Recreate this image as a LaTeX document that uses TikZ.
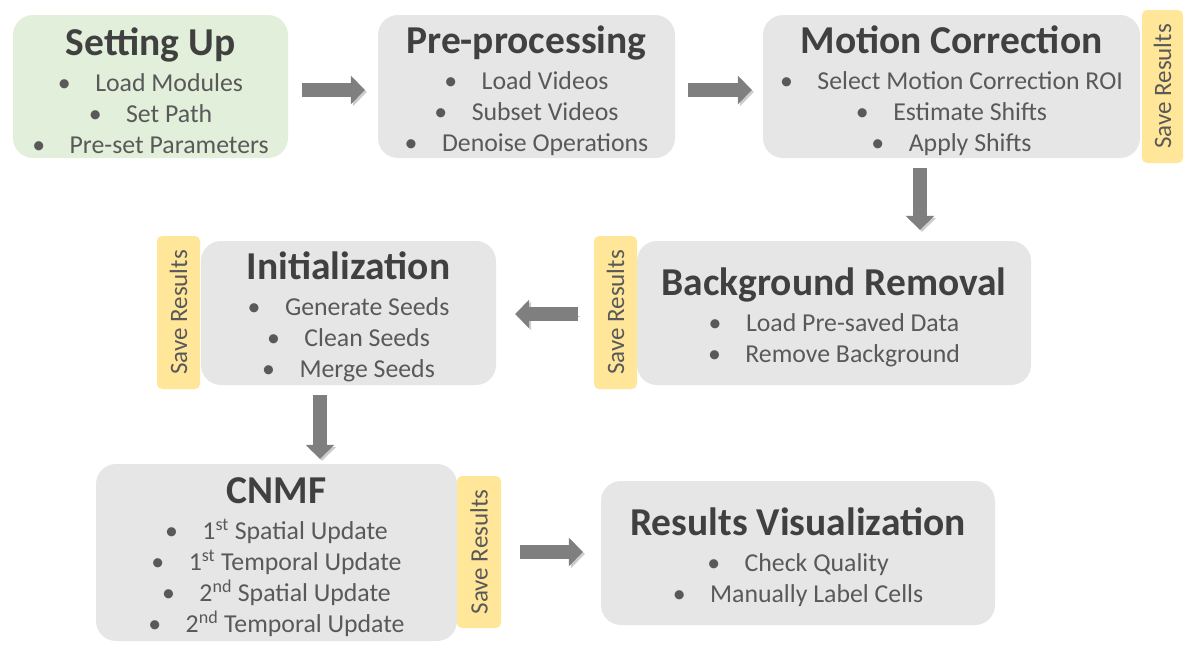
\documentclass[tikz,border=0pt]{standalone}
\usepackage{fontspec}
\setmainfont{Carlito}
\usepackage{xcolor}
\usepackage{tikz}
\usetikzlibrary{arrows.meta,positioning}
\definecolor{boxgray}{HTML}{E6E6E6}
\definecolor{boxgreen}{HTML}{E2EFDA}
\definecolor{tagyellow}{HTML}{FFE699}
\definecolor{arrgray}{HTML}{7F7F7F}
\definecolor{ttlgray}{HTML}{404040}
\definecolor{txtgray}{HTML}{595959}
\newcommand{\ttl}[1]{{\fontsize{39.5}{44}\selectfont\bfseries\color{ttlgray}\rule{0pt}{36pt}#1}}
\newcommand{\itm}[1]{\textbullet\hspace{0.95em}#1}
\tikzset{
  fx/.style={x=1pt, y=-1pt},
  c box/.style={rounded corners=20pt, align=center, inner sep=0pt, text=txtgray,
    font=\fontsize{25.8}{31}\selectfont},
  c stage/.style={c box, fill=boxgray},
  c start/.style={c box, fill=boxgreen},
  c save/.style={rounded corners=5pt, fill=tagyellow, inner sep=0pt, text=txtgray,
    font=\fontsize{25}{28}\selectfont},
  c arr/.style={line width=14pt, draw=arrgray, -{Triangle[length=14pt,width=28pt]},
    preaction={draw=black!20, transform canvas={shift={(2pt,-2pt)}}}},
}

\begin{document}
\begin{tikzpicture}[fx]
\useasboundingbox (0,0) rectangle (1195,665);
% top row
\node[c start, minimum width=275, minimum height=143] (setup) at (150.5,86.5)
  {\ttl{Setting Up}\\[5pt]\itm{Load Modules}\\\itm{Set Path}\\\itm{Pre-set Parameters}};
\node[c stage, minimum width=297, minimum height=143] (prep) at (526.5,86.5)
  {\ttl{Pre-processing}\\[5pt]\itm{Load Videos}\\\itm{Subset Videos}\\\itm{Denoise Operations}};
\node[c stage, minimum width=377, minimum height=143] (mc) at (951.5,86.5)
  {\ttl{Motion Correction}\\[5pt]\itm{Select Motion Correction ROI}\\\itm{Estimate Shifts}\\\itm{Apply Shifts}};
\node[c save, minimum width=41, minimum height=153] (mcsave) at (1162.5,86.5)
  {\rotatebox{90}{Save Results}};
% middle row
\node[c stage, minimum width=394, minimum height=144] (bg) at (834,313)
  {\ttl{Background Removal}\\[5pt]\itm{Load Pre-saved Data}\\\itm{Remove Background}};
\node[c save, minimum width=43, minimum height=153] (bgsave) at (615.5,312.5)
  {\rotatebox{90}{Save Results}};
\node[c stage, minimum width=295, minimum height=144] (init) at (348.5,313)
  {\ttl{Initialization}\\[5pt]\itm{Generate Seeds}\\\itm{Clean Seeds}\\\itm{Merge Seeds}};
\node[c save, minimum width=43, minimum height=153] (initsave) at (178.5,312.5)
  {\rotatebox{90}{Save Results}};
% bottom row
\node[c stage, minimum width=361, minimum height=177] (cnmf) at (276.5,552.5)
  {\ttl{CNMF}\\[5pt]\itm{1\textsuperscript{st} Spatial Update}\\\itm{1\textsuperscript{st} Temporal Update}\\
   \itm{2\textsuperscript{nd} Spatial Update}\\\itm{2\textsuperscript{nd} Temporal Update}};
\node[c save, minimum width=44, minimum height=152] (cnmfsave) at (479,552)
  {\rotatebox{90}{Save Results}};
\node[c stage, minimum width=394, minimum height=144] (vis) at (798,553)
  {\ttl{Results Visualization}\\[5pt]\itm{Check Quality}\\\itm{Manually Label Cells}};
% arrows
\draw[c arr, shorten <=14pt, shorten >=13pt] ([yshift=-3.5pt]setup.east) -- ([yshift=-3.5pt]prep.west);
\draw[c arr, shorten <=13pt, shorten >=11pt] ([yshift=-3.5pt]prep.east) -- ([yshift=-3.5pt]mc.west);
\draw[c arr, shorten <=10pt, shorten >=11pt] ([xshift=-31.5pt]mc.south) -- ([xshift=-31.5pt]mc.south |- bg.north);
\draw[c arr, shorten <=16pt, shorten >=19pt] ([yshift=-1.5pt]bgsave.west) -- ([yshift=-1.5pt]bgsave.west -| init.east);
\draw[c arr, shorten <=10pt, shorten >=5pt] ([xshift=-28.5pt]init.south) -- ([xshift=-28.5pt]init.south |- cnmf.north);
\draw[c arr, shorten <=19pt, shorten >=18pt] (cnmfsave.east) -- (cnmfsave.east -| vis.west);
\end{tikzpicture}
\end{document}
